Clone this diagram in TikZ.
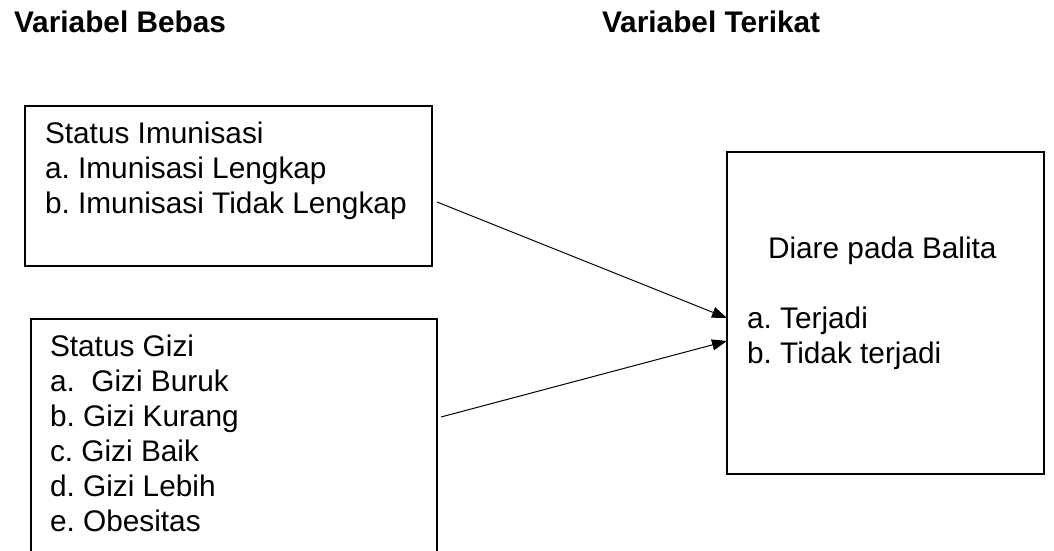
\documentclass[tikz,border=0pt]{standalone}
\usepackage{fontspec}
\setmainfont{Liberation Sans}
\usetikzlibrary{arrows.meta,positioning}
\frenchspacing

\begin{document}
\begin{tikzpicture}[
  x=1pt, y=-1pt,
  every node/.style={outer sep=0pt, inner sep=0pt},
  box/.style ={draw, line width=1.2pt, rectangle},
  txt/.style ={font=\fontsize{29.8}{35}\selectfont, align=left, anchor=north west},
  head/.style={font=\fontsize{29.8}{35}\selectfont\bfseries, anchor=base west},
  link/.style={line width=1pt, -{Triangle[length=15pt,width=11pt]}}
]
  \useasboundingbox (0,0) rectangle (1054,551);
  \clip (0,0) rectangle (1054,551);

  % Column headings
  \node[head] (bebas)   at (14,33)  {Variabel Bebas};
  \node[head] (terikat) at (602,33) {Variabel Terikat};

  % Left column (independent variables)
  \node[box, minimum width=407pt, minimum height=160pt] (imun) at (228.5,186) {};
  \node[txt] (imuntxt) at ([xshift=20pt,yshift=-16pt]imun.north west)
    {Status Imunisasi\\a. Imunisasi Lengkap\\b. Imunisasi Tidak Lengkap};

  \node[box, minimum width=406pt, minimum height=246pt] (gizi) at (234,442) {};
  \node[txt] (gizitxt) at ([xshift=19pt,yshift=-16pt]gizi.north west)
    {Status Gizi\\a.\ \ Gizi Buruk\\b. Gizi Kurang\\c. Gizi Baik\\d. Gizi Lebih\\e. Obesitas};

  % Right column (dependent variable)
  \node[box, minimum width=317pt, minimum height=322pt] (diare) at (885.5,313) {};
  \node[txt] (diaretxt) at ([xshift=20pt,yshift=-85pt]diare.north west)
    {\hspace*{21pt}Diare pada Balita\\[35pt]a. Terjadi\\b. Tidak terjadi};

  % Links
  \draw[link] ([xshift=5pt,yshift=-16pt]imun.east) -- ([yshift=-5pt]diare.west);
  \draw[link] ([xshift=4pt,yshift=25pt]gizi.east) -- ([yshift=-28pt]diare.west);
\end{tikzpicture}
\end{document}
